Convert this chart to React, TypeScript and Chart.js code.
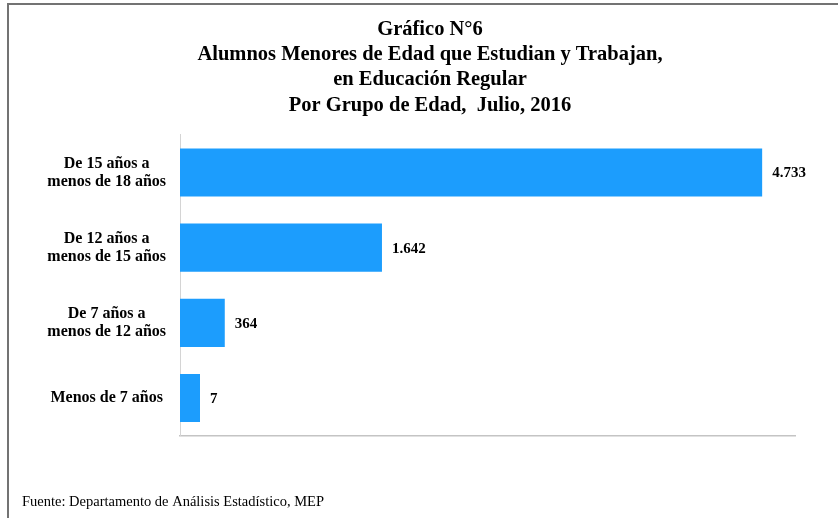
import React, { useEffect, useRef } from "react";
import { Chart, registerables } from "chart.js";

Chart.register(...registerables);

const titleLines = [
  "Gráfico N°6",
  "Alumnos Menores de Edad que Estudian y Trabajan,",
  "en Educación Regular",
  "Por Grupo de Edad,  Julio, 2016",
];
const footerText = "Fuente: Departamento de Análisis Estadístico, MEP";
const categories = [
  ["De 15 años a", "menos de 18 años"],
  ["De 12 años a", "menos de 15 años"],
  ["De 7 años a", "menos de 12 años"],
  "Menos de 7 años",
];
const values = [4733, 1642, 364, 7];
const axisMax = 5000;

const SERIF = "'Liberation Serif', 'Times New Roman', serif";

function fmt(v: number): string {
  return String(v).replace(/\B(?=(\d{3})+(?!\d))/g, ".");
}

const valueLabels = {
  id: "valueLabels",
  afterDatasetsDraw(chart: any) {
    const ctx = chart.ctx;
    const meta = chart.getDatasetMeta(0);
    ctx.save();
    ctx.font = `bold 15px ${SERIF}`;
    ctx.fillStyle = "#000";
    ctx.textAlign = "left";
    ctx.textBaseline = "middle";
    meta.data.forEach((el: any, i: number) => {
      const v = chart.data.datasets[0].data[i];
      ctx.fillText(fmt(v), el.x + 10, el.y + 1);
    });
    ctx.restore();
  },
};

export default function App() {
  const ref = useRef<HTMLCanvasElement>(null);
  useEffect(() => {
    document.body.style.margin = "0";
    const chart = new Chart(ref.current!, {
      type: "bar",
      data: {
        labels: categories as any,
        datasets: [
          {
            data: values,
            backgroundColor: "#1c9dfd",
            borderWidth: 0,
            minBarLength: 20,
            barPercentage: 0.64,
            categoryPercentage: 1,
          },
        ],
      },
      options: {
        indexAxis: "y",
        animation: false,
        responsive: false,
        maintainAspectRatio: false,
        layout: { padding: { left: 22, right: 0, top: 0, bottom: 0 } },
        plugins: {
          legend: { display: false },
          tooltip: { enabled: false },
          title: {
            display: true,
            text: titleLines,
            color: "#000",
            font: { family: SERIF, size: 20.5, weight: "bold", lineHeight: 1.23 },
            padding: { top: 17, bottom: 17 },
          },
          subtitle: {
            display: true,
            position: "bottom",
            align: "start",
            text: footerText,
            color: "#000",
            font: { family: SERIF, size: 14.5, weight: "normal", lineHeight: 1.2 },
            padding: { top: 58, bottom: 7 },
          },
        },
        scales: {
          x: {
            type: "linear",
            min: 0,
            max: axisMax,
            ticks: { display: false },
            grid: { display: false, drawTicks: false },
            border: { display: true, color: "#c4c4c4", width: 1.5 },
            afterFit: (s: any) => {
              s.height = 0;
            },
          },
          y: {
            type: "category",
            ticks: {
              color: "#000",
              padding: 14,
              crossAlign: "center",
              font: { family: SERIF, size: 16, weight: "bold", lineHeight: 1.12 },
            },
            grid: { display: false, drawTicks: false },
            border: { display: true, color: "#d4d4d4", width: 1 },
            afterFit: (s: any) => {
              s.width = 158;
            },
          },
          y2: {
            type: "linear",
            position: "right",
            ticks: { display: false },
            grid: { display: false, drawTicks: false },
            border: { display: false },
            afterFit: (s: any) => {
              s.width = 43;
            },
          },
        },
      },
      plugins: [valueLabels],
    } as any);
    return () => chart.destroy();
  }, []);

  return (
    <div style={{ position: "relative", width: 838, height: 518, overflow: "hidden", background: "#fff" }}>
      <div
        style={{
          position: "absolute",
          left: 7,
          top: 3,
          width: 900,
          height: 600,
          borderLeft: "2px solid #737373",
          borderTop: "2px solid #737373",
        }}
      />
      <canvas ref={ref} width={838} height={518} style={{ position: "absolute", left: 0, top: 0 }} />
    </div>
  );
}
